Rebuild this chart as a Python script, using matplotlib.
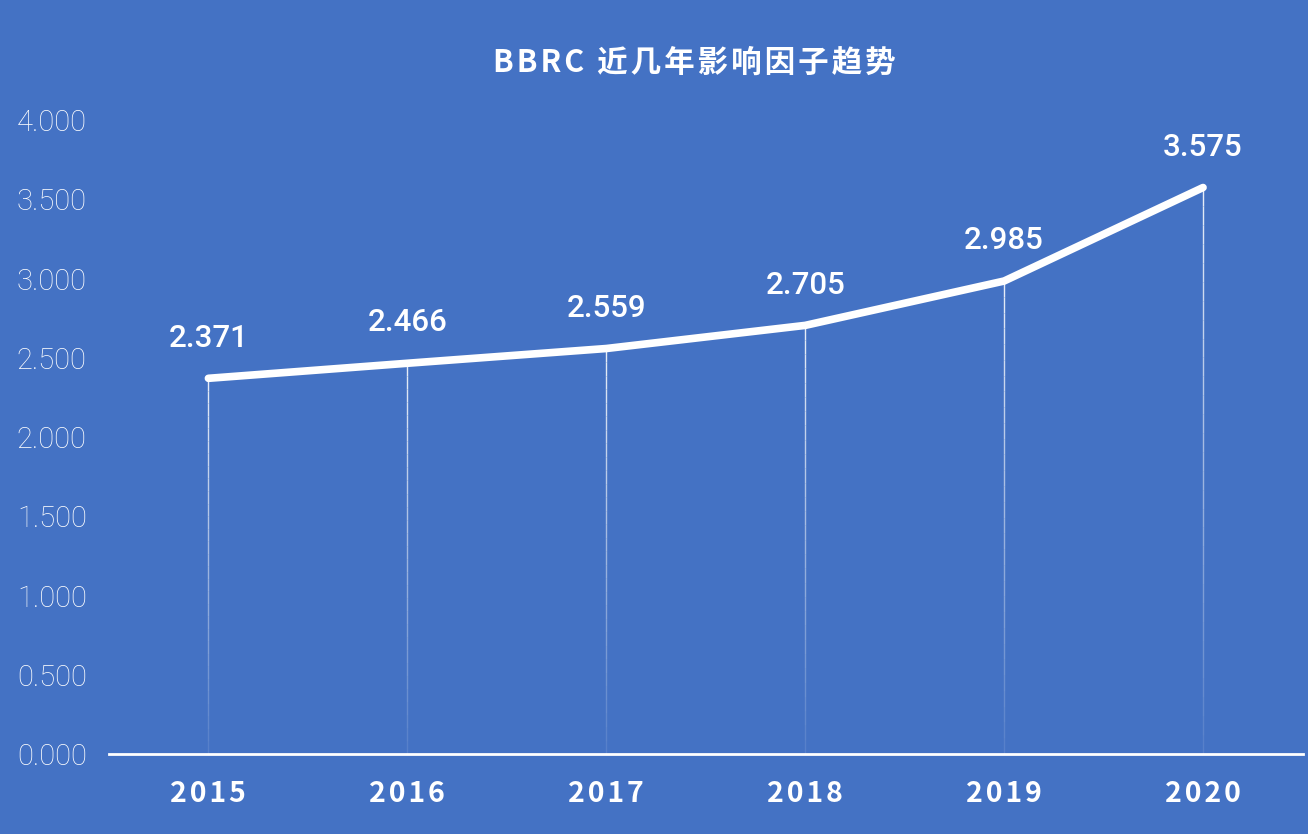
import numpy as np
import matplotlib.pyplot as plt

years = ['2015', '2016', '2017', '2018', '2019', '2020']
impact = [2.371, 2.466, 2.559, 2.705, 2.985, 3.575]
yticks = [0, 0.5, 1.0, 1.5, 2.0, 2.5, 3.0, 3.5, 4.0]

BG = '#4472c4'
SP = '\u200a'  # hair space for letter spacing

fig = plt.figure(figsize=(13.08, 8.34), dpi=100, facecolor=BG)
ax = fig.add_axes([0.0833, 0.0959, 0.9125, 0.760], facecolor=BG)

x = np.arange(len(years))

# drop lines, fading out toward the axis
for xi, v in zip(x, impact):
    n = 30
    ys = np.linspace(0, v, n + 1)
    for k in range(n):
        a = 0.1 + 0.8 * (k / n)
        ax.plot([xi, xi], [ys[k], ys[k + 1]], color='white', lw=1, alpha=a,
                solid_capstyle='butt', zorder=2)

ax.plot(x, impact, color='white', lw=5.5, solid_capstyle='round',
        solid_joinstyle='round', zorder=3)

for xi, v in zip(x, impact):
    ax.annotate(f'{v:.3f}', (xi, v), xytext=(0, 29), textcoords='offset points',
                ha='center', va='center', color='white', fontsize=22.5,
                fontfamily='Roboto', fontweight='medium')

ax.set_xlim(-0.5, 5.5)
ax.set_ylim(0, 4)
ax.set_xticks(x)
ax.set_xticklabels([SP.join(y) for y in years], fontsize=20.5, fontweight='bold',
                   color='white', fontfamily=['Noto Sans CJK SC', 'DejaVu Sans'])
ax.set_yticks(yticks)
ax.set_yticklabels([f'{t:.3f}' for t in yticks], fontsize=21, color='white',
                   fontfamily='Roboto', fontweight='light')
ax.tick_params(axis='x', length=0, pad=19)
ax.tick_params(axis='y', length=0, pad=16)

for s in ['top', 'right', 'left']:
    ax.spines[s].set_visible(False)
ax.spines['bottom'].set_color('white')
ax.spines['bottom'].set_linewidth(2)

title = 'BBRC 近几年影响因子趋势'
fig.text(0.531, 0.925, SP.join(title), ha='center', va='center',
         color='white', fontsize=22, fontweight='bold',
         fontfamily=['Noto Sans CJK SC', 'DejaVu Sans'])

fig.savefig('out.png', dpi=100, facecolor=BG)
